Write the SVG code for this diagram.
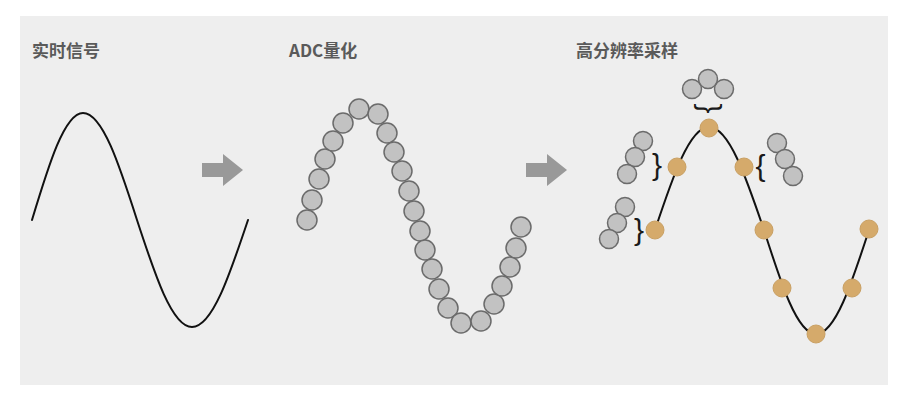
<svg xmlns="http://www.w3.org/2000/svg" width="899" height="401" viewBox="0 0 899 401">
  <style>
    .title { font-family: "Noto Sans CJK SC", "Liberation Sans", sans-serif; font-size: 17px; font-weight: 700; fill: #5a5a5a; }
    .wave { fill: none; stroke: #111111; stroke-width: 2; stroke-linecap: round; }
    .q { fill: #c2c2c2; stroke: #6b6b6b; stroke-width: 1.5; }
    .s { fill: #d5aa6b; stroke: #c9a063; stroke-width: 1; }
    .brace { font-family: "Liberation Sans", "DejaVu Sans", sans-serif; font-size: 30px; fill: #1a1a1a; text-anchor: middle; }
    .arrow { fill: #999999; }
  </style>
  <rect x="0" y="0" width="899" height="401" fill="#ffffff"/>
  <rect x="20" y="16" width="868" height="369" fill="#eeeeee"/>

  <g id="realtime-signal">
    <text class="title" x="32" y="57">实时信号</text>
    <path class="wave" d="M32,220 C48.6,165.2 64.5,113 83,113 C102.5,113 119.4,165.2 137,220 C154.9,274.8 172.1,327 192,327 C212.3,327 229.7,274.8 248,220"/>
  </g>

  <g id="adc-quantization">
    <text class="title" x="289" y="57">ADC量化</text>
    <g>
      <circle class="q" cx="307" cy="220" r="10"/>
      <circle class="q" cx="312" cy="200" r="10"/>
      <circle class="q" cx="319" cy="179" r="10"/>
      <circle class="q" cx="325" cy="159" r="10"/>
      <circle class="q" cx="333" cy="141" r="10"/>
      <circle class="q" cx="343" cy="123" r="10"/>
      <circle class="q" cx="359" cy="109" r="10"/>
      <circle class="q" cx="378" cy="114" r="10"/>
      <circle class="q" cx="387" cy="133" r="10"/>
      <circle class="q" cx="394" cy="152" r="10"/>
      <circle class="q" cx="402" cy="171" r="10"/>
      <circle class="q" cx="409" cy="191" r="10"/>
      <circle class="q" cx="414" cy="211" r="10"/>
      <circle class="q" cx="420" cy="231" r="10"/>
      <circle class="q" cx="425" cy="250" r="10"/>
      <circle class="q" cx="432" cy="269" r="10"/>
      <circle class="q" cx="439" cy="289" r="10"/>
      <circle class="q" cx="448" cy="308" r="10"/>
      <circle class="q" cx="461" cy="323" r="10"/>
      <circle class="q" cx="481" cy="321" r="10"/>
      <circle class="q" cx="494" cy="304" r="10"/>
      <circle class="q" cx="502" cy="286" r="10"/>
      <circle class="q" cx="510" cy="267" r="10"/>
      <circle class="q" cx="516" cy="248" r="10"/>
      <circle class="q" cx="521" cy="227" r="10"/>
    </g>
  </g>

  <g id="high-resolution-sampling">
    <text class="title" x="576" y="57">高分辨率采样</text>
    <path class="wave" d="M655,230 C672.6,177.2 689.5,127 709,127 C728.9,127 746.1,177.2 764,230 C781,283.3 797.2,334 816,334 C835.2,334 851.7,283.3 869,230"/>
    <g id="top-group">
      <circle class="q" cx="692" cy="89" r="9.5"/>
      <circle class="q" cx="724" cy="89" r="9.5"/>
      <circle class="q" cx="708" cy="79" r="9.5"/>
      <text class="brace" transform="translate(708,108.5) rotate(90)" x="0" y="7.8">}</text>
    </g>
    <g id="left-upper-group">
      <circle class="q" cx="643" cy="141" r="9.5"/>
      <circle class="q" cx="635" cy="157" r="9.5"/>
      <circle class="q" cx="627" cy="174" r="9.5"/>
      <text class="brace" x="657" y="175">}</text>
    </g>
    <g id="left-lower-group">
      <circle class="q" cx="625" cy="207" r="9.5"/>
      <circle class="q" cx="617" cy="223" r="9.5"/>
      <circle class="q" cx="609" cy="239" r="9.5"/>
      <text class="brace" x="639" y="240">}</text>
    </g>
    <g id="right-upper-group">
      <circle class="q" cx="777" cy="143" r="9.5"/>
      <circle class="q" cx="785" cy="159" r="9.5"/>
      <circle class="q" cx="793" cy="176" r="9.5"/>
      <text class="brace" x="760.5" y="176">{</text>
    </g>
    <g id="samples">
      <circle class="s" cx="655" cy="230" r="9"/>
      <circle class="s" cx="677" cy="167" r="9"/>
      <circle class="s" cx="709" cy="128" r="9"/>
      <circle class="s" cx="744" cy="167" r="9"/>
      <circle class="s" cx="764" cy="230" r="9"/>
      <circle class="s" cx="782" cy="288" r="9"/>
      <circle class="s" cx="816" cy="334" r="9"/>
      <circle class="s" cx="852" cy="288" r="9"/>
      <circle class="s" cx="869" cy="229" r="9"/>
    </g>
  </g>

  <g id="connectors">
    <polygon class="arrow" points="202,163 223,163 223,154 243,170 223,186 223,177 202,177"/>
    <polygon class="arrow" points="526,163 547,163 547,154 567,170 547,186 547,177 526,177"/>
  </g>
</svg>
